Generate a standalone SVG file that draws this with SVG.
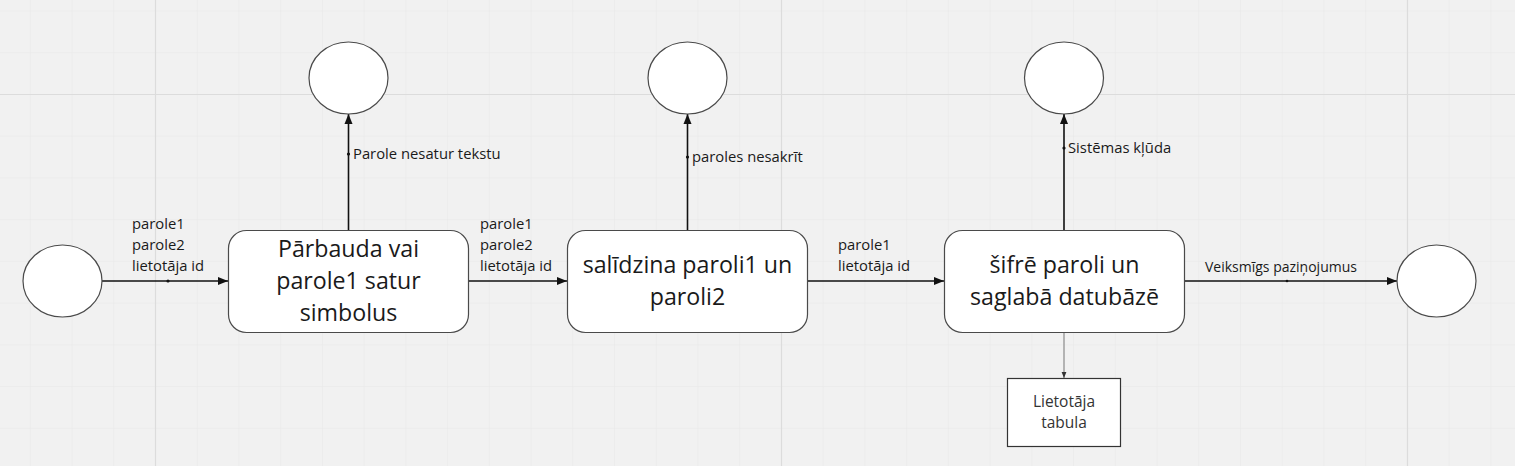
<svg xmlns="http://www.w3.org/2000/svg" width="1515" height="466" viewBox="0 0 1515 466">
<style>
.box{fill:#ffffff;stroke:#4a4a4a;stroke-width:1.2}
.ell{fill:#ffffff;stroke:#4a4a4a;stroke-width:1.2}
.big{font-family:"Open Sans","Noto Sans",sans-serif;font-size:23.2px;fill:#1a1a1a;text-anchor:middle}
.lbl{font-family:"Open Sans","Noto Sans",sans-serif;font-size:14.8px;fill:#1a1a1a}
.lbs{font-family:"Open Sans","Noto Sans",sans-serif;font-size:14px;fill:#1a1a1a}
.sm{font-family:"Open Sans","Noto Sans",sans-serif;font-size:15.5px;fill:#333333;text-anchor:middle}
.edge{stroke:#111111;stroke-width:1.6;fill:none}
.edge2{stroke:#8a8a8a;stroke-width:1.2;fill:none}
.dot{fill:#111111}
</style>
<defs>
<pattern id="grid" patternUnits="userSpaceOnUse" x="29.8" y="10.5" width="41.73" height="41.73">
<path d="M0 0H41.73M0 0V41.73" stroke="#e7e7e7" stroke-width="1" fill="none"/>
</pattern>
<marker id="arr" viewBox="0 0 10 10" refX="10" refY="5" markerWidth="10" markerHeight="10" markerUnits="userSpaceOnUse" orient="auto">
<path d="M0 1L10 5L0 9Z" fill="#111111"/>
</marker>
<marker id="arrs" viewBox="0 0 10 10" refX="10" refY="5" markerWidth="6" markerHeight="6" markerUnits="userSpaceOnUse" orient="auto">
<path d="M0 1L10 5L0 9Z" fill="#333333"/>
</marker>
</defs>
<rect width="1515" height="466" fill="#f1f1f1"/>
<rect width="1515" height="466" fill="url(#grid)"/>
<g stroke="#dcdcdc" stroke-width="1.2">
<line x1="155.5" y1="0" x2="155.5" y2="466"/>
<line x1="781.5" y1="0" x2="781.5" y2="466"/>
<line x1="1407.5" y1="0" x2="1407.5" y2="466"/>
<line x1="0" y1="94.5" x2="1515" y2="94.5"/>
</g>

<g id="connectors">
<line class="edge" x1="102" y1="281" x2="228" y2="281" marker-end="url(#arr)"/>
<circle class="dot" cx="168" cy="281" r="1.6"/>
<text class="lbl" x="132" y="229">parole1</text>
<text class="lbl" x="132" y="250">parole2</text>
<text class="lbl" x="132" y="271">lietotāja id</text>

<line class="edge" x1="468" y1="281" x2="567" y2="281" marker-end="url(#arr)"/>
<text class="lbl" x="480" y="229">parole1</text>
<text class="lbl" x="480" y="250">parole2</text>
<text class="lbl" x="480" y="271">lietotāja id</text>

<line class="edge" x1="808" y1="281" x2="944" y2="281" marker-end="url(#arr)"/>
<text class="lbl" x="838" y="250">parole1</text>
<text class="lbl" x="838" y="271">lietotāja id</text>

<line class="edge" x1="1184" y1="281" x2="1397" y2="281" marker-end="url(#arr)"/>
<circle class="dot" cx="1287" cy="281" r="1.3"/>
<text class="lbs" x="1205" y="272">Veiksmīgs paziņojumus</text>

<line class="edge" x1="348.5" y1="230" x2="348.5" y2="114" marker-end="url(#arr)"/>
<circle class="dot" cx="348.5" cy="154" r="1.6"/>
<text class="lbl" x="353" y="159">Parole nesatur tekstu</text>

<line class="edge" x1="687.5" y1="230" x2="687.5" y2="114" marker-end="url(#arr)"/>
<circle class="dot" cx="687.5" cy="157" r="1.6"/>
<text class="lbl" x="692" y="162">paroles nesakrīt</text>

<line class="edge" x1="1064" y1="230" x2="1064" y2="114" marker-end="url(#arr)"/>
<circle class="dot" cx="1064" cy="148" r="1.6"/>
<text class="lbl" x="1068" y="153">Sistēmas kļūda</text>

<line class="edge2" x1="1064" y1="333" x2="1064" y2="378" marker-end="url(#arrs)"/>
</g>

<g id="start"><ellipse class="ell" cx="62.5" cy="281" rx="39.5" ry="36"/></g>
<g id="end-ok"><ellipse class="ell" cx="1436.5" cy="281" rx="39.5" ry="36"/></g>
<g id="end-1"><ellipse class="ell" cx="348.5" cy="78" rx="39.5" ry="36"/></g>
<g id="end-2"><ellipse class="ell" cx="687.5" cy="78" rx="39.5" ry="36"/></g>
<g id="end-3"><ellipse class="ell" cx="1064" cy="78" rx="39.5" ry="36"/></g>

<g id="p1">
<rect class="box" x="228.5" y="230.5" width="240" height="102" rx="18"/>
<text class="big" x="348.5" y="257">Pārbauda vai</text>
<text class="big" x="348.5" y="289">parole1 satur</text>
<text class="big" x="348.5" y="321">simbolus</text>
</g>
<g id="p2">
<rect class="box" x="567.5" y="230.5" width="240" height="102" rx="18"/>
<text class="big" x="687.5" y="273">salīdzina paroli1 un</text>
<text class="big" x="687.5" y="305">paroli2</text>
</g>
<g id="p3">
<rect class="box" x="944.5" y="230.5" width="240" height="102" rx="18"/>
<text class="big" x="1064.5" y="273">šifrē paroli un</text>
<text class="big" x="1064.5" y="305">saglabā datubāzē</text>
</g>
<g id="db">
<rect x="1007.5" y="378.5" width="113" height="68" fill="#ffffff" stroke="#333333" stroke-width="1.2"/>
<text class="sm" x="1064" y="407">Lietotāja</text>
<text class="sm" x="1064" y="428">tabula</text>
</g>
</svg>
